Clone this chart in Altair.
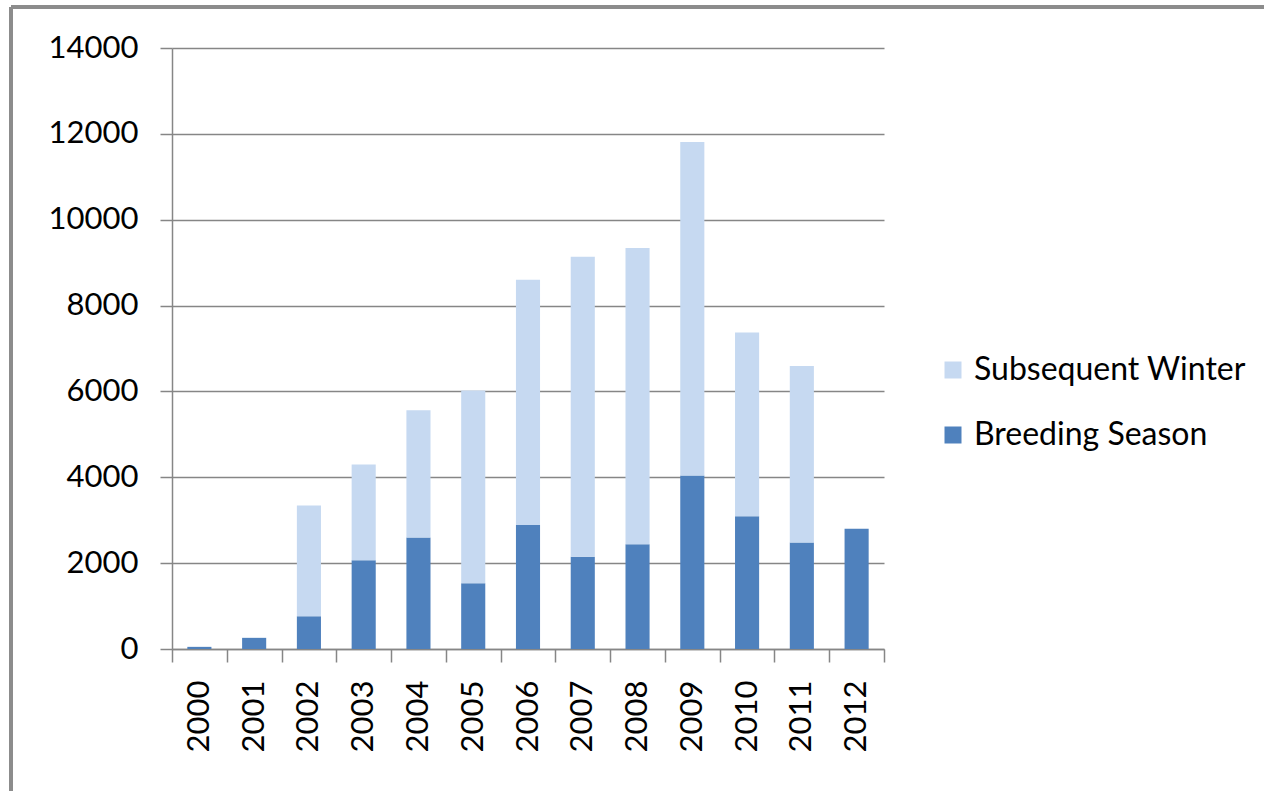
import altair as alt
import pandas as pd

years = ["2000", "2001", "2002", "2003", "2004", "2005", "2006",
         "2007", "2008", "2009", "2010", "2011", "2012"]
breeding = [50, 260, 760, 2070, 2600, 1530, 2890, 2150, 2440, 4040, 3090, 2480, 2800]
winter_total = [50, 260, 3340, 4300, 5560, 6020, 8600, 9140, 9340, 11810, 7370, 6590, 2800]
winter = [t - b for t, b in zip(winter_total, breeding)]

series = ["Subsequent Winter", "Breeding Season"]
colors = ["#C6D9F1", "#4F81BD"]

rows = []
for y, b, w in zip(years, breeding, winter):
    rows.append({"year": y, "series": "Breeding Season", "value": b, "ord": 0})
    rows.append({"year": y, "series": "Subsequent Winter", "value": w, "ord": 1})
df = pd.DataFrame(rows)

FONT = "Lato"
GRID = "#868686"

bars = alt.Chart(df).mark_bar(width=alt.RelativeBandSize(0.44)).encode(
    x=alt.X("year:N", sort=years, title=None,
            scale=alt.Scale(paddingInner=0, paddingOuter=0),
            axis=alt.Axis(labelAngle=270, labelFontSize=31, labelFont=FONT,
                          labelColor="#000000", labelPadding=18,
                          tickBand="extent", tickSize=13, tickColor=GRID,
                          tickWidth=1.5, domainColor=GRID, domainWidth=1.5,
                          grid=False)),
    y=alt.Y("value:Q", stack="zero", title=None,
            scale=alt.Scale(domain=[0, 14000], nice=False),
            axis=alt.Axis(values=list(range(0, 14001, 2000)), format="d",
                          labelFontSize=31,
                          labelFont=FONT, labelColor="#000000", labelPadding=22,
                          tickSize=12, tickColor=GRID, tickWidth=1.5,
                          domainColor=GRID, domainWidth=1.5,
                          gridColor=GRID, gridWidth=1.5, gridOpacity=1)),
    color=alt.Color("series:N", scale=alt.Scale(domain=series, range=colors),
                    legend=alt.Legend(title=None, orient="none", legendX=765,
                                      legendY=306, symbolType="square",
                                      symbolSize=289, symbolStrokeWidth=0,
                                      labelFontSize=32, labelFont=FONT,
                                      labelColor="#000000", labelLimit=400,
                                      rowPadding=33, labelOffset=5)),
    order=alt.Order("ord:Q", sort="ascending"),
)

frame_left = alt.Chart(df).mark_rule(color="#8c8c8c", strokeWidth=3, clip=False).encode(
    x=alt.value(-161), y=alt.value(-41), y2=alt.value(760))
frame_top = alt.Chart(df).mark_rule(color="#8c8c8c", strokeWidth=3, clip=False).encode(
    x=alt.value(-161), x2=alt.value(1110), y=alt.value(-41))

chart = alt.layer(bars, frame_left, frame_top).properties(
    width=712, height=601,
    autosize=alt.AutoSizeParams(type="none"),
    padding={"left": 172, "top": 48, "right": 380, "bottom": 142},
    background="#ffffff",
).configure_view(stroke=None)

chart.save("out.html", embed_options={"renderer": "svg", "actions": False})
